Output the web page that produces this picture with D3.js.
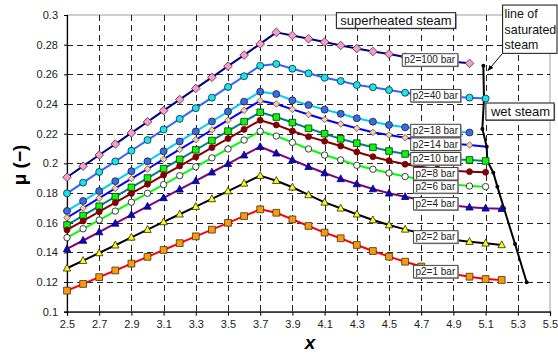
<!DOCTYPE html>
<html>
<head>
<meta charset="utf-8">
<script src="https://cdn.jsdelivr.net/npm/d3@7"></script>
<style>
  body { margin: 0; background: #fff; }
  svg { display: block; font-family: "Liberation Sans", Arial, sans-serif; }
  .grid line { stroke: #222; stroke-width: 1; stroke-dasharray: 6,4; shape-rendering: crispEdges; }
  .tick-label { font-size: 11px; fill: #222; }
  .ser-label { font-size: 10px; fill: #222; }
  .note { font-size: 13px; fill: #111; }
  .note-sm { font-size: 12.4px; fill: #111; }
</style>
</head>
<body>
<script>
// x positions of the measuring points
const xValues = [2.5, 2.6, 2.7, 2.8, 2.9, 3.0, 3.1, 3.2, 3.3, 3.4, 3.5, 3.6, 3.7, 3.8,
  3.9, 4.0, 4.1, 4.2, 4.3, 4.4, 4.5, 4.6, 4.7, 4.8, 4.9, 5.0, 5.1, 5.2];

// mu for every outlet pressure p2
const p100 = [0.1906, 0.1981, 0.2056, 0.2130, 0.2205, 0.2280, 0.2355, 0.2430, 0.2505, 0.2580, 0.2655, 0.2730, 0.2805, 0.2883,
  0.2862, 0.2840, 0.2818, 0.2794, 0.2774, 0.2754, 0.2737, 0.2717, 0.2703, 0.2693, 0.2685, 0.2674];
const p40 = [0.1798, 0.1870, 0.1942, 0.2013, 0.2085, 0.2157, 0.2228, 0.2300, 0.2372, 0.2443, 0.2515, 0.2587, 0.2658, 0.2670,
  0.2638, 0.2607, 0.2577, 0.2555, 0.2528, 0.2513, 0.2494, 0.2476, 0.2464, 0.2455, 0.2449, 0.2443, 0.2437];
const p18 = [0.1679, 0.1746, 0.1813, 0.1880, 0.1947, 0.2014, 0.2081, 0.2148, 0.2215, 0.2282, 0.2349, 0.2416, 0.2483, 0.2467,
  0.2425, 0.2393, 0.2362, 0.2334, 0.2304, 0.2281, 0.2259, 0.2243, 0.2230, 0.2219, 0.2213, 0.2208];
const p14 = [0.1634, 0.1699, 0.1765, 0.1831, 0.1897, 0.1962, 0.2028, 0.2094, 0.2159, 0.2225, 0.2291, 0.2357, 0.2422, 0.2400,
  0.2364, 0.2329, 0.2296, 0.2265, 0.2236, 0.2209, 0.2191, 0.2173, 0.2157, 0.2144, 0.2132, 0.2124];
const p10 = [0.1584, 0.1648, 0.1711, 0.1775, 0.1838, 0.1901, 0.1965, 0.2027, 0.2091, 0.2154, 0.2217, 0.2281, 0.2344, 0.2312,
  0.2275, 0.2236, 0.2200, 0.2165, 0.2136, 0.2108, 0.2083, 0.2063, 0.2048, 0.2036, 0.2027, 0.2023, 0.2016];
const p8 = [0.1551, 0.1612, 0.1674, 0.1735, 0.1797, 0.1859, 0.1921, 0.1982, 0.2043, 0.2106, 0.2167, 0.2229, 0.2290, 0.2259,
  0.2218, 0.2180, 0.2149, 0.2117, 0.2077, 0.2045, 0.2018, 0.1994, 0.1975, 0.1962, 0.1950, 0.1944, 0.1940];
const p6 = [0.1499, 0.1559, 0.1618, 0.1678, 0.1738, 0.1798, 0.1857, 0.1917, 0.1977, 0.2037, 0.2097, 0.2157, 0.2216, 0.2184,
  0.2141, 0.2097, 0.2056, 0.2023, 0.1987, 0.1960, 0.1935, 0.1911, 0.1891, 0.1873, 0.1857, 0.1847, 0.1843];
const p4 = [0.1423, 0.1480, 0.1537, 0.1595, 0.1653, 0.1710, 0.1767, 0.1825, 0.1882, 0.1940, 0.1997, 0.2055, 0.2112, 0.2068,
  0.2023, 0.1977, 0.1935, 0.1895, 0.1861, 0.1827, 0.1798, 0.1775, 0.1753, 0.1733, 0.1716, 0.1704, 0.1697, 0.1694];
const p2 = [0.1293, 0.1344, 0.1396, 0.1448, 0.1501, 0.1553, 0.1605, 0.1657, 0.1708, 0.1760, 0.1813, 0.1865, 0.1917, 0.1883,
  0.1839, 0.1787, 0.1737, 0.1697, 0.1657, 0.1618, 0.1584, 0.1555, 0.1528, 0.1505, 0.1485, 0.1472, 0.1461, 0.1450];
const p1 = [0.1142, 0.1187, 0.1233, 0.1278, 0.1324, 0.1370, 0.1416, 0.1462, 0.1508, 0.1553, 0.1599, 0.1644, 0.1690, 0.1667,
  0.1622, 0.1578, 0.1533, 0.1495, 0.1450, 0.1409, 0.1371, 0.1337, 0.1305, 0.1278, 0.1254, 0.1236, 0.1220, 0.1214];

const seriesNames = ["p2=100 bar", "p2=40 bar", "p2=18 bar", "p2=14 bar", "p2=10 bar",
  "p2=8 bar", "p2=6 bar", "p2=4 bar", "p2=2 bar", "p2=1 bar"];
const seriesValues = [p100, p40, p18, p14, p10, p8, p6, p4, p2, p1];

// the p2=14 bar line runs on to the saturation line without a marker
const lineTails = [null, null, null, [5.107, 0.2112], null, null, null, null, null, null];

// line of saturated steam
const satX = [5.086, 5.09, 5.08, 5.107, 5.11, 5.148, 5.173, 5.214, 5.283, 5.355];
const satY = [0.2658, 0.2437, 0.2232, 0.2112, 0.2018, 0.1937, 0.1843, 0.1697, 0.1456, 0.1198];

// ticks
const xTicks = [2.5, 2.7, 2.9, 3.1, 3.3, 3.5, 3.7, 3.9, 4.1, 4.3, 4.5, 4.7, 4.9, 5.1, 5.3, 5.5];
const yTicks = [0.1, 0.12, 0.14, 0.16, 0.18, 0.2, 0.22, 0.24, 0.26, 0.28, 0.3];

// styles: line colour, marker shape, marker fill, marker stroke, marker radius
const styles = [
  { line: "#000080", shape: "diamond", fill: "#ff99cc", stroke: "#333", r: 4.3 },
  { line: "#3366ff", shape: "circle", fill: "#11e6f2", stroke: "#222", r: 3.5 },
  { line: "#00ccff", shape: "circle", fill: "#3a6ce8", stroke: "#222", r: 3.5 },
  { line: "#0000ff", shape: "diamond", fill: "#ffcc99", stroke: "#555", r: 3.3 },
  { line: "#008080", shape: "square", fill: "#00ff00", stroke: "#222", r: 3.3 },
  { line: "#800000", shape: "circle", fill: "#800000", stroke: "#800000", r: 3 },
  { line: "#00ff00", shape: "circle", fill: "#fff", stroke: "#111", r: 3.2 },
  { line: "#800080", shape: "triangle", fill: "#0000ff", stroke: "#111", r: 3.7 },
  { line: "#000000", shape: "triangle", fill: "#ffff00", stroke: "#222", r: 3.7 },
  { line: "#ff0000", shape: "square", fill: "#ff9900", stroke: "#333", r: 3.4 }
];

// where the series labels sit (data units)
const labelPos = [[4.755, 0.2697], [4.79, 0.2456], [4.79, 0.2221], [4.79, 0.2129], [4.79, 0.2031],
  [4.79, 0.1930], [4.79, 0.1841], [4.79, 0.1728], [4.79, 0.1504], [4.79, 0.1270]];

let W = 558, H = 356;
let margin = { top: 15, right: 8, bottom: 44.3, left: 67 },
  width = W - margin.left - margin.right,
  height = H - margin.top - margin.bottom;

let xScale = d3.scaleLinear().domain([2.5, 5.5]).range([0, width]);
let yScale = d3.scaleLinear().domain([0.1, 0.3]).range([height, 0]);

let svgRoot = d3.select("body").append("svg")
  .attr("width", W)
  .attr("height", H);

let svg = svgRoot.append("g")
  .attr("transform", "translate(" + margin.left + "," + margin.top + ")");

// plot frame (top/right in grey)
svg.append("rect")
  .attr("x", 0).attr("y", 0)
  .attr("width", width).attr("height", height)
  .attr("fill", "#fff")
  .attr("stroke", "#a0a0a0")
  .attr("stroke-width", 1);

// dashed grid
let grid = svg.append("g").attr("class", "grid");
grid.selectAll(".hg")
  .data(yTicks.filter(d => d > 0.1 && d < 0.3))
  .enter().append("line")
  .attr("x1", 0).attr("x2", width)
  .attr("y1", d => Math.round(yScale(d)) + 0.5)
  .attr("y2", d => Math.round(yScale(d)) + 0.5);
grid.selectAll(".vg")
  .data(xTicks.filter(d => d > 2.5 && d < 5.5))
  .enter().append("line")
  .attr("y1", 0).attr("y2", height)
  .attr("x1", d => Math.round(xScale(d)) + 0.5)
  .attr("x2", d => Math.round(xScale(d)) + 0.5);

// axes
let fmtY = d => String(+d.toFixed(2));
let xAxis = svg.append("g")
  .attr("transform", "translate(0," + height + ")")
  .call(d3.axisBottom(xScale).tickValues(xTicks).tickFormat(d => d.toFixed(1)).tickSizeOuter(0).tickSize(4).tickPadding(5));
let yAxis = svg.append("g")
  .call(d3.axisLeft(yScale).tickValues(yTicks).tickFormat(fmtY).tickSizeOuter(0).tickSize(3).tickPadding(6));
[xAxis, yAxis].forEach(a => {
  a.select(".domain").attr("stroke", "#000").attr("stroke-width", 1.2);
  a.selectAll(".tick line").attr("stroke", "#000");
  a.selectAll(".tick text").attr("class", "tick-label").attr("font-family", null).attr("font-size", null);
});

// series lines
let line = d3.line()
  .x(d => xScale(d[0]))
  .y(d => yScale(d[1]));

let seriesPts = seriesValues.map(vals => vals.map((v, i) => [xValues[i], v]));

seriesPts.forEach((pts, k) => {
  let linePts = lineTails[k] ? pts.concat([lineTails[k]]) : pts;
  svg.append("path")
    .datum(linePts)
    .attr("fill", "none")
    .attr("stroke", styles[k].line)
    .attr("stroke-width", 2)
    .attr("stroke-linejoin", "round")
    .attr("d", line);
});

// saturation line
let satPts = satX.map((x, i) => [x, satY[i]]);
svg.append("path")
  .datum(satPts)
  .attr("fill", "none")
  .attr("stroke", "#000")
  .attr("stroke-width", 2)
  .attr("d", line);
svg.selectAll(".satdot")
  .data(satPts)
  .enter().append("circle")
  .attr("cx", d => xScale(d[0]))
  .attr("cy", d => yScale(d[1]))
  .attr("r", 2)
  .attr("fill", "#000");

// markers
function markerPath(shape, r) {
  if (shape === "diamond") return `M0,${-r}L${r},0L0,${r}L${-r},0Z`;
  if (shape === "square") return `M${-r},${-r}H${r}V${r}H${-r}Z`;
  if (shape === "triangle") return `M0,${-r * 1.1}L${r},${r * 0.75}L${-r},${r * 0.75}Z`;
  return d3.arc()({ innerRadius: 0, outerRadius: r, startAngle: 0, endAngle: 2 * Math.PI });
}

seriesPts.forEach((pts, k) => {
  let st = styles[k];
  svg.append("g").selectAll("path")
    .data(pts)
    .enter().append("path")
    .attr("transform", d => "translate(" + xScale(d[0]) + "," + yScale(d[1]) + ")")
    .attr("d", markerPath(st.shape, st.r))
    .attr("fill", st.fill)
    .attr("stroke", st.stroke)
    .attr("stroke-width", 0.8);
});

// boxed text helper
function boxText(g, lines, cx, cy, cls, opts) {
  let grp = g.append("g");
  let shadow = grp.append("rect");
  let box = grp.append("rect");
  let t = grp.append("text").attr("class", cls);
  lines.forEach((s, i) => t.append("tspan").attr("x", 0).attr("dy", i === 0 ? 0 : opts.lh).text(s));
  let bb = t.node().getBBox();
  let bw = opts.w || bb.width + opts.padX * 2, bh = opts.h || bb.height + opts.padY * 2;
  let bx = cx - bw / 2, by = cy - bh / 2;
  if (opts.align === "left") t.attr("transform", `translate(${bx + opts.padX},${by + opts.base})`);
  else t.attr("transform", `translate(${cx - bb.width / 2 - bb.x},${by + opts.base})`);
  shadow.attr("x", bx + 1).attr("y", by + 1).attr("width", bw).attr("height", bh).attr("fill", opts.shadow || "none");
  box.attr("x", bx).attr("y", by).attr("width", bw).attr("height", bh)
    .attr("fill", "#fff").attr("stroke", opts.stroke).attr("stroke-width", 1);
  return grp;
}

// series labels
seriesNames.forEach((name, k) => {
  boxText(svg, [name], xScale(labelPos[k][0]), yScale(labelPos[k][1]), "ser-label",
    { padX: 2, padY: 0, h: 12.5, base: 9.6, stroke: "#444", shadow: "#9a9a9a" });
});

// notes, drawn in page coordinates
let notes = svgRoot.append("g");
boxText(notes, ["superheated steam"], 396, 20.5, "note",
  { padX: 4, padY: 0, h: 15.6, base: 12.2, stroke: "#111", shadow: "#888" });
boxText(notes, ["wet steam"], 520, 111.5, "note",
  { padX: 4, padY: 0, h: 17, base: 13, stroke: "#111", shadow: "#888" });
boxText(notes, ["line of", "saturated", "steam"], 529.8, 29.2, "note-sm",
  { padX: 2, padY: 0, w: 54.4, h: 48.3, lh: 15.5, base: 13, align: "left", stroke: "#111", shadow: "none" });

// arrow to the saturation line
notes.append("defs").append("marker")
  .attr("id", "ah").attr("viewBox", "0 0 10 10").attr("refX", 9).attr("refY", 5)
  .attr("markerWidth", 6).attr("markerHeight", 6).attr("orient", "auto")
  .append("path").attr("d", "M0,1L10,5L0,9Z").attr("fill", "#000");
notes.append("line")
  .attr("x1", 502).attr("y1", 54).attr("x2", 488).attr("y2", 70.5)
  .attr("stroke", "#000").attr("stroke-width", 1)
  .attr("marker-end", "url(#ah)");

// axis titles
svgRoot.append("text")
  .attr("transform", "translate(19,165) rotate(-90)")
  .attr("text-anchor", "middle")
  .attr("dominant-baseline", "central")
  .attr("font-size", 19).attr("font-weight", "bold").attr("fill", "#000")
  .text("\u03bc (\u2212)");
svgRoot.append("text")
  .attr("x", 310).attr("y", 349)
  .attr("text-anchor", "middle")
  .attr("font-size", 19).attr("font-weight", "bold").attr("font-style", "italic").attr("fill", "#000")
  .text("x");
</script>
</body>
</html>
